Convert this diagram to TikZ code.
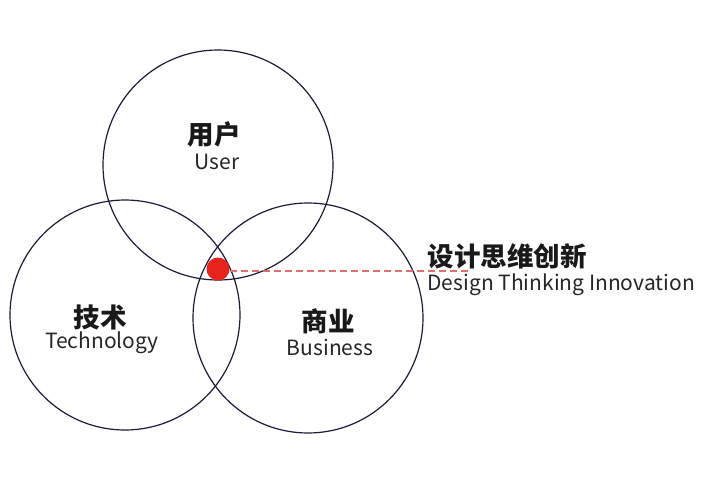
\documentclass[tikz,border=0pt]{standalone}
\usepackage{fontspec}
\setmainfont{Noto Sans CJK SC}
\definecolor{ringcol}{HTML}{1C1C3A}
\definecolor{dotred}{HTML}{E8231E}
\definecolor{dashred}{HTML}{E07070}
\tikzset{
  ring/.style = {circle, draw=ringcol, line width=1.2pt, minimum size=230pt, inner sep=0pt},
  cjklabel/.style = {font=\fontsize{26.5}{29}\selectfont\bfseries, text=black!90},
  enlabel/.style = {font=\fontsize{21}{24}\selectfont, text=black!85}
}

\begin{document}
\begin{tikzpicture}[x=1pt, y=-1pt]
\useasboundingbox (0,0) rectangle (710,480);
\fill[white] (0,0) rectangle (710,480);
% the three circles
\node[ring] (user) at (218,165) {};
\node[ring] (tech) at (125,315) {};
\node[ring] (biz) at (308,318) {};
% labels
\node[cjklabel] (userzh) at (214,134) {用户};
\node[enlabel] (useren) at (217,162) {User};
\node[cjklabel] (techzh) at (100,317) {技术};
\node[enlabel] (techen) at (102,343) {Technology};
\node[cjklabel] (bizzh) at (328,321) {商业};
\node[enlabel] (bizen) at (330,347) {Business};
% the overlap
\node[circle, fill=dotred, minimum size=23pt, inner sep=0pt] (dot) at (218,269) {};
\coordinate (lineend) at (471,271);
\draw[dashred, line width=1.4pt, dash pattern=on 7pt off 4pt] (dot.east |- 0,271) -- (lineend);
\node[cjklabel, anchor=west] (dtzh) at (424,256) {设计思维创新};
\node[enlabel, anchor=west] (dten) at (424,285) {Design Thinking Innovation};
\end{tikzpicture}
\end{document}
